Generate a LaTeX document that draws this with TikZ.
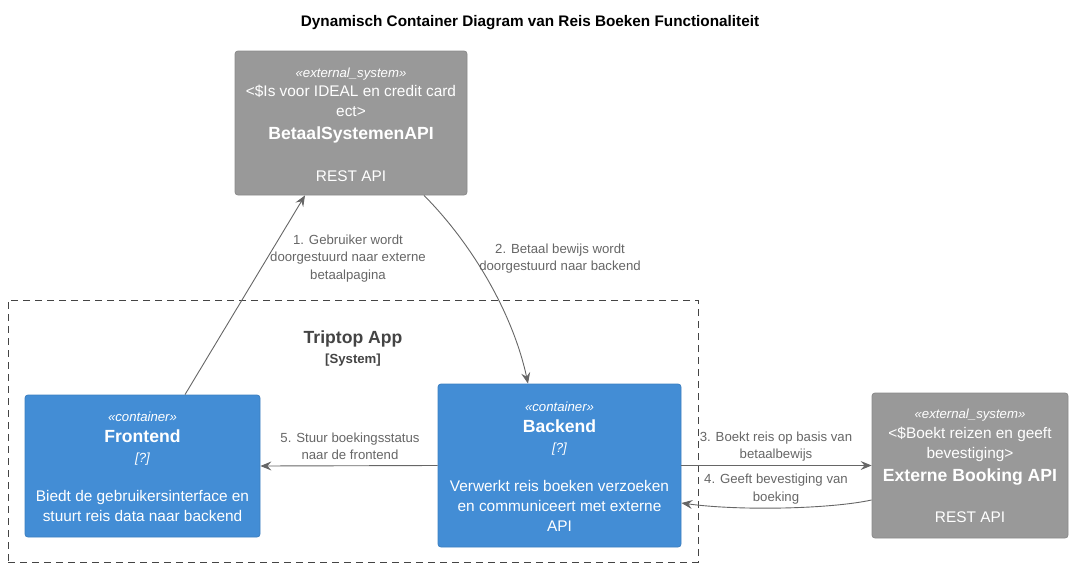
\documentclass[tikz,border=0pt]{standalone}
\usepackage{fontspec}
\setmainfont{Liberation Sans}
\usetikzlibrary{arrows.meta}
\definecolor{extgray}{HTML}{999999}
\definecolor{extborder}{HTML}{8A8A8A}
\definecolor{contblue}{HTML}{438DD5}
\definecolor{contborder}{HTML}{3C7FC0}
\definecolor{lblgray}{HTML}{666666}
\definecolor{bndgray}{HTML}{444444}
\begin{document}
\begin{tikzpicture}[x=1pt,y=-1pt,
  extbox/.style={draw=extborder,fill=extgray,rounded corners=3pt,line width=0.8pt},
  contbox/.style={draw=contborder,fill=contblue,rounded corners=3pt,line width=0.8pt},
  st/.style={text=white,font=\fontsize{13.2}{15}\selectfont\itshape,anchor=mid,inner sep=0pt},
  nm/.style={text=white,font=\fontsize{17.6}{20}\selectfont\bfseries,anchor=mid,inner sep=0pt},
  tx/.style={text=white,font=\fontsize{15.4}{18}\selectfont,anchor=mid,inner sep=0pt},
  lbl/.style={text=lblgray,font=\fontsize{13.2}{17.2}\selectfont,align=center,inner sep=0pt},
  conn/.style={draw=lblgray,line width=0.9pt,-{Stealth[length=11pt,width=9pt,inset=4pt]}},
  bnd/.style={draw=bndgray,line width=0.9pt,dash pattern=on 7pt off 5pt}]
\useasboundingbox (0,0) rectangle (1073,570);

% title
\node[anchor=mid,inner sep=0pt,font=\fontsize{15.3}{18}\selectfont\bfseries] (title) at (530,23.5) {Dynamisch Container Diagram van Reis Boeken Functionaliteit};

% boundary
\node[bnd,minimum width=690pt,minimum height=262pt,inner sep=0pt] (boundary) at (353,431) {};
\node[anchor=mid,inner sep=0pt,text=bndgray,font=\fontsize{17.6}{20}\selectfont\bfseries] (btitle) at (353,341) {Triptop App};
\node[anchor=mid,inner sep=0pt,text=bndgray,font=\fontsize{13.2}{15}\selectfont\bfseries] (bsub) at (353,360.5) {[System]};

% BetaalSystemenAPI
\node[extbox,minimum width=232pt,minimum height=144pt] (betaal) at (351,123) {};
\node[st] (betaal-st) at (351,74.5) {«external\_system»};
\node[tx] (betaal-d1) at (351,94) {<\$Is voor IDEAL en credit card};
\node[tx] (betaal-d2) at (351,114) {ect>};
\node[nm] (betaal-nm) at (351,136.5) {BetaalSystemenAPI};
\node[tx] (betaal-t) at (351,179) {REST API};

% Frontend
\node[contbox,minimum width=235pt,minimum height=142pt] (frontend) at (142.5,466) {};
\node[st] (frontend-st) at (142.5,418.5) {«container»};
\node[nm] (frontend-nm) at (142.5,440) {Frontend};
\node[st] (frontend-tc) at (142.5,459.5) {[?]};
\node[tx] (frontend-d1) at (142.5,499) {Biedt de gebruikersinterface en};
\node[tx] (frontend-d2) at (142.5,519) {stuurt reis data naar backend};

% Backend
\node[contbox,minimum width=243pt,minimum height=163pt] (backend) at (559.5,465.5) {};
\node[st] (backend-st) at (559.5,408.5) {«container»};
\node[nm] (backend-nm) at (559.5,429.5) {Backend};
\node[st] (backend-tc) at (559.5,449.5) {[?]};
\node[tx] (backend-d1) at (559.5,489) {Verwerkt reis boeken verzoeken};
\node[tx] (backend-d2) at (559.5,509) {en communiceert met externe};
\node[tx] (backend-d3) at (559.5,529) {API};

% Externe Booking API
\node[extbox,minimum width=196pt,minimum height=145pt] (ext) at (970,465.5) {};
\node[st] (ext-st) at (970,415.5) {«external\_system»};
\node[tx] (ext-d1) at (970,436) {<\$Boekt reizen en geeft};
\node[tx] (ext-d2) at (970,456) {bevestiging>};
\node[nm] (ext-nm) at (970,478.5) {Externe Booking API};
\node[tx] (ext-t) at (970,520) {REST API};

% connectors
\draw[conn] ([xshift=42.5pt]frontend.north) -- ([xshift=-46pt]betaal.south);
\node[lbl] (l1) at (348,258.5) {1. Gebruiker wordt\\doorgestuurd naar externe\\betaalpagina};

\draw[conn] ([xshift=73pt]betaal.south) .. controls (476,248) and (514,318) .. ([xshift=-31.5pt]backend.north);
\node[lbl] (l2) at (560,258.5) {2. Betaal bewijs wordt\\doorgestuurd naar backend};

\draw[conn] (backend.east) -- (ext.west);
\node[lbl] (l3) at (776,446.5) {3. Boekt reis op basis van\\betaalbewijs};

\draw[conn] ([yshift=-34.5pt]ext.west) .. controls (830,509) and (740,511) .. ([yshift=-37.5pt]backend.east);
\node[lbl] (l4) at (776,489) {4. Geeft bevestiging van\\boeking};

\draw[conn] (backend.west) -- (frontend.east);
\node[lbl] (l5) at (350,446.5) {5. Stuur boekingsstatus\\naar de frontend};
\end{tikzpicture}
\end{document}
